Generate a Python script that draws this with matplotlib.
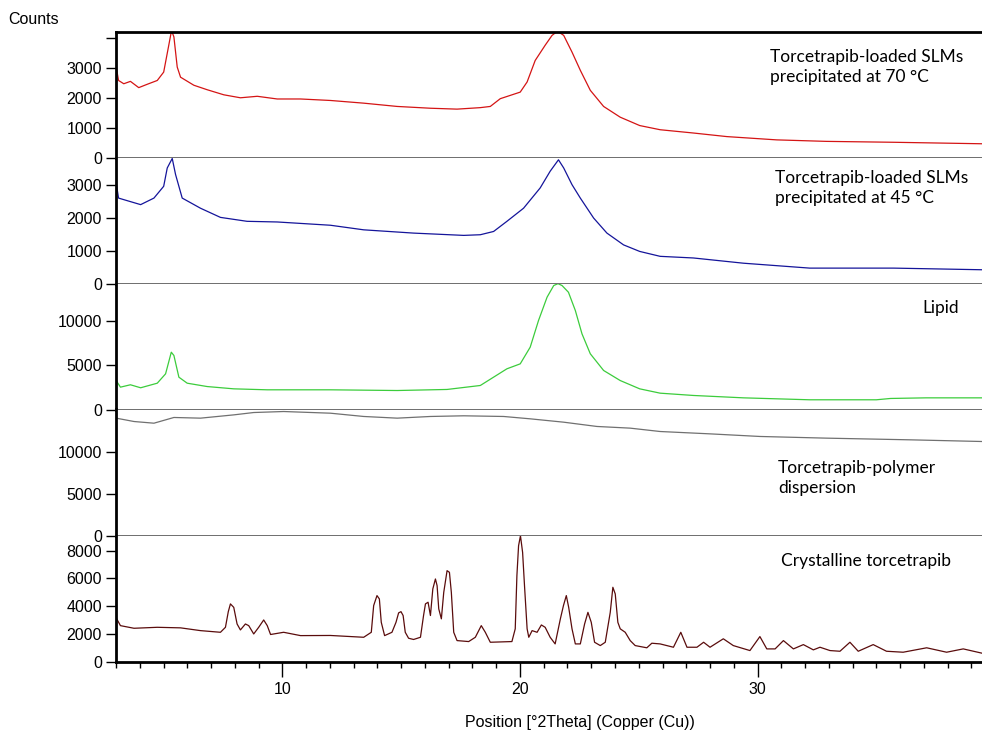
import matplotlib
matplotlib.use("Agg")
import matplotlib.pyplot as plt
from matplotlib.ticker import MultipleLocator, FixedLocator

# readings (2theta, counts)
x_70 = [3.0, 3.1, 3.32, 3.6, 3.95, 4.3, 4.73, 5.0, 5.2, 5.33, 5.43, 5.57, 5.71, 6.27, 6.83,
        7.53, 8.23, 8.94, 9.78, 10.76, 12.02, 13.42, 14.83, 16.23, 17.35, 18.33, 18.75, 19.17,
        20.01, 20.3, 20.64, 21.06, 21.35, 21.58, 21.84, 22.19, 22.54, 22.96, 23.52, 24.22,
        25.04, 25.9, 27.3, 28.71, 30.81, 32.9, 35.73, 39.45]
y_70 = [3030, 2580, 2470, 2550, 2340, 2450, 2580, 2860, 3700, 4250, 4040, 3030, 2690, 2420, 2270,
        2100, 2000, 2050, 1960, 1960, 1910, 1820, 1710, 1650, 1620, 1670, 1710, 1970,
        2190, 2530, 3250, 3760, 4090, 4230, 4090, 3530, 2920, 2250, 1710, 1350,
        1070, 930, 820, 700, 590, 540, 510, 460]

x_45 = [3.0, 3.1, 3.47, 4.03, 4.59, 5.0, 5.15, 5.36, 5.5, 5.78, 6.55, 7.39, 8.51, 9.78, 12.02,
        13.42, 15.52, 17.63, 18.33, 18.89, 19.45, 20.15, 20.85, 21.27, 21.62, 21.84, 22.19,
        22.54, 23.1, 23.66, 24.36, 25.04, 25.9, 27.3, 29.41, 32.2, 35.73, 39.45]
y_45 = [3070, 2610, 2530, 2410, 2610, 2970, 3530, 3820, 3330, 2610, 2300, 2020, 1900, 1880, 1780,
        1640, 1540, 1470, 1490, 1590, 1900, 2300, 2920, 3430, 3780, 3530, 3020,
        2610, 2000, 1540, 1180, 980, 830, 780, 620, 470, 470, 420]

x_lip = [3.0, 3.18, 3.6, 4.03, 4.73, 5.08, 5.32, 5.43, 5.64, 5.99, 6.83, 7.95, 9.36, 12.02,
         14.83, 16.93, 18.33, 19.45, 20.01, 20.43, 20.78, 21.14, 21.42, 21.6, 21.77, 22.04,
         22.33, 22.61, 22.96, 23.52, 24.22, 25.04, 25.9, 27.3, 29.41, 32.2, 35.0, 35.6, 37.1, 39.45]
y_lip = [3280, 2530, 2800, 2460, 2980, 4040, 6490, 6120, 3660, 2980, 2600, 2340, 2230, 2230,
         2150, 2270, 2720, 4610, 5170, 7060, 10080, 12720, 14040, 14250, 14040, 13280,
         11210, 8570, 6310, 4420, 3280, 2340, 1850, 1590, 1320, 1100, 1100, 1250, 1320, 1320]

x_pol = [3.0, 3.75, 4.59, 5.43, 6.55, 7.95, 8.79, 10.05, 12.02, 13.42, 14.83, 16.23, 17.63,
         19.31, 20.43, 21.84, 23.24, 24.64, 25.9, 28.0, 30.1, 32.9, 36.42, 39.45]
y_pol = [13970, 13570, 13370, 14050, 13970, 14360, 14640, 14760, 14560, 14170, 13970, 14170, 14250,
         14170, 13890, 13490, 12980, 12780, 12380, 12100, 11790, 11590, 11390, 11190]

x_cry = [3.0, 3.18, 3.75, 4.73, 5.71, 6.55, 7.39, 7.6, 7.72, 7.81, 7.95,
         8.09, 8.23, 8.44, 8.58, 8.79, 9.0, 9.21, 9.36, 9.5, 10.05,
         10.76, 12.02, 13.42, 13.74, 13.84, 13.98, 14.08, 14.16, 14.3, 14.47, 14.61,
         14.78, 14.89, 14.99, 15.08, 15.17, 15.31, 15.52, 15.81,
         15.94, 16.02, 16.13, 16.23, 16.33, 16.44, 16.51, 16.58, 16.69, 16.79,
         16.93, 17.03, 17.11, 17.21, 17.35, 17.84, 18.12, 18.37, 18.54, 18.75,
         19.66, 19.8, 19.87, 19.94, 20.02, 20.11, 20.19, 20.3, 20.37, 20.51,
         20.72, 20.9, 21.06, 21.27, 21.48, 21.7, 21.83, 21.95, 22.05, 22.19,
         22.33, 22.54, 22.72, 22.86, 23.0, 23.14, 23.38, 23.59, 23.8, 23.91,
         24.01, 24.12, 24.22, 24.43, 24.64, 24.85, 25.34, 25.55, 25.9, 26.46, 26.77,
         27.03, 27.45, 27.73, 28.0, 28.56, 28.98, 29.68, 30.1, 30.39, 30.74,
         31.09, 31.51, 31.93, 32.35, 32.63, 33.05, 33.47, 33.89, 34.24, 34.87,
         35.43, 36.13, 37.12, 37.96, 38.66, 39.45]
y_cry = [3150, 2590, 2400, 2470, 2430, 2230, 2110, 2470, 3600, 4160, 3910,
         2710, 2280, 2710, 2590, 1990, 2470, 3000, 2590, 1950, 2110,
         1870, 1880, 1750, 2110, 4040, 4760, 4520, 2830, 1870, 2000, 2110,
         2830, 3510, 3600, 3320, 2110, 1680, 1590, 1750,
         3320, 4160, 4280, 3320, 5240, 5960, 5480, 3800, 3080, 4990,
         6560, 6440, 4990, 2110, 1510, 1440, 1750, 2590, 2110, 1390,
         1440, 2360, 6200, 8360, 9080, 7880, 5480, 2360, 1750, 2230,
         2110, 2640, 2470, 1750, 1270, 3080, 4040, 4760, 3910, 2360,
         1270, 1270, 2710, 3550, 2830, 1390, 1150, 1390, 3550, 5360,
         4880, 2830, 2360, 2110, 1510, 1150, 990, 1320, 1270, 1030, 2110,
         1030, 1030, 1390, 1030, 1640, 1150, 790, 1800, 910, 910,
         1510, 910, 1220, 840, 1030, 790, 740, 1390, 740, 1220,
         740, 670, 990, 670, 910, 600]

labels = ["Torcetrapib-loaded SLMs\nprecipitated at 70 \u00b0C",
          "Torcetrapib-loaded SLMs\nprecipitated at 45 \u00b0C",
          "Lipid",
          "Torcetrapib-polymer\ndispersion",
          "Crystalline torcetrapib"]
colors = ["#d41414", "#14149a", "#3ccc3c", "#707070", "#5a0c0c"]
ymax = [4220, 3850, 14270, 15000, 9100]
yticks = [[0, 1000, 2000, 3000, 4000], [0, 1000, 2000, 3000], [0, 5000, 10000],
          [0, 5000, 10000], [0, 2000, 4000, 6000, 8000]]
# label position in pixels (left x, centre y of the block)
label_px = [(770, 67), (775, 188), (922, 308), (778, 478), (781, 561)]

series = [(x_70, y_70), (x_45, y_45), (x_lip, y_lip), (x_pol, y_pol), (x_cry, y_cry)]

W, H = 982, 736
fig = plt.figure(figsize=(W / 100, H / 100), dpi=100)
tickfont = "Liberation Sans"
notefont = "Lato"

left, right = 115.7 / W, 1.0
top_px, bot_px = 31.5, 661.5
ph = (bot_px - top_px) / 5

axes = []
for i in range(5):
    y0 = 1 - (top_px + ph * (i + 1)) / H
    ax = fig.add_axes([left, y0, right - left, ph / H])
    xs, ys = series[i]
    ax.plot(xs, ys, color=colors[i], lw=0.9)
    ax.set_xlim(2.98, 39.45)
    ax.set_ylim(0, ymax[i])
    ax.yaxis.set_major_locator(FixedLocator(yticks[i]))
    ax.set_yticklabels([str(t) if t < 4000 or i > 0 else "" for t in yticks[i]],
                       fontname=tickfont, fontsize=11.5)
    ax.tick_params(axis="y", direction="out", length=7, width=1, pad=3)
    ax.spines["right"].set_visible(False)
    ax.spines["left"].set_linewidth(2)
    ax.spines["top"].set_visible(i == 0)
    ax.spines["top"].set_linewidth(2)
    if i < 4:
        ax.spines["bottom"].set_color("#555555")
        ax.spines["bottom"].set_linewidth(1.2)
        ax.tick_params(axis="x", which="both", bottom=False, labelbottom=False)
    else:
        ax.spines["bottom"].set_linewidth(2)
    lx, ly = label_px[i]
    fig.text(lx / W, 1 - ly / H, labels[i], fontname=notefont, fontsize=12.5,
             ha="left", va="center", linespacing=1.35)
    axes.append(ax)

ax = axes[-1]
ax.xaxis.set_major_locator(FixedLocator([10, 20, 30]))
ax.xaxis.set_minor_locator(MultipleLocator(1))
ax.set_xticklabels(["10", "20", "30"], fontname=tickfont, fontsize=11.5)
ax.tick_params(axis="x", which="major", direction="out", length=11, width=1, pad=4)
ax.tick_params(axis="x", which="minor", direction="out", length=4.5, width=1)

fig.text(8 / W, 1 - 19 / H, "Counts", fontname=tickfont, fontsize=11.5, ha="left", va="center")
fig.text(580 / W, 1 - 723 / H, "Position [\u00b02Theta] (Copper (Cu))", fontname=tickfont,
         fontsize=11.5, ha="center", va="center")

fig.savefig("out.png", dpi=100, facecolor="white")
